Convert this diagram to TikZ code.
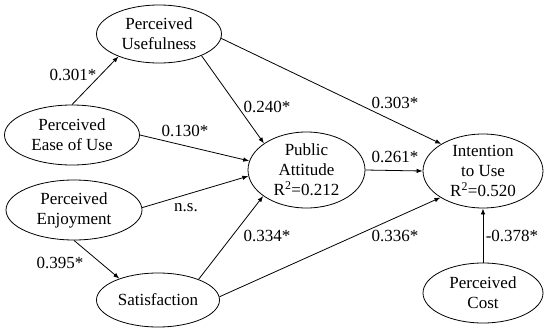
\documentclass[tikz,border=0pt]{standalone}
\usepackage{fontspec}
\setmainfont{Liberation Serif}
\usetikzlibrary{shapes.geometric,arrows.meta}
\begin{document}
\begin{tikzpicture}[x=1pt,y=-1pt,
  ell/.style={draw,ellipse,inner sep=0pt,align=center,line width=0.8pt,
    font=\fontsize{17}{20}\selectfont},
  lbl/.style={inner sep=0pt,font=\fontsize{17}{20}\selectfont},
  arr/.style={line width=0.8pt,-{Latex[length=6pt,width=4.5pt]}}]
\useasboundingbox (0,0) rectangle (550,335);
\node[ell,minimum width=125pt,minimum height=58pt] (pu) at (159,34) {Perceived\\Usefulness};
\node[ell,minimum width=135pt,minimum height=60pt] (peou) at (72,135) {Perceived\\Ease of Use};
\node[ell,minimum width=117pt,minimum height=76pt] (pa) at (306.5,170) {Public\\Attitude\\R\textsuperscript{2}=0.212};
\node[ell,minimum width=120pt,minimum height=74pt] (iu) at (483,171) {Intention\\to Use\\R\textsuperscript{2}=0.520};
\node[ell,minimum width=136pt,minimum height=60pt] (pe) at (74,210) {Perceived\\Enjoyment};
\node[ell,minimum width=123pt,minimum height=54pt] (sat) at (158,300) {Satisfaction};
\node[ell,minimum width=120pt,minimum height=60pt] (pc) at (483,293) {Perceived\\Cost};

\draw[arr] (peou.north) -- (pu.209);
\draw[arr] (pu.333) -- (pa.148.3);
\draw[arr] (pu.356) -- (iu.147.6);
\draw[arr] (peou.east) -- (pa.171.3);
\draw[arr] (pa.east) -- (iu.west);
\draw[arr] (pe.2) -- (pa.186.8);
\draw[arr] (pe.south) -- (sat.151.8);
\draw[arr] (sat.27.6) -- (pa.211.8);
\draw[arr] (sat.3) -- (iu.212);
\draw[arr] (pc.north) -- (iu.south);

\node[lbl] (l1) at (73,75) {0.301*};
\node[lbl] (l2) at (267,107) {0.240*};
\node[lbl] (l3) at (395,103) {0.303*};
\node[lbl] (l4) at (185,131) {0.130*};
\node[lbl] (l5) at (395,157) {0.261*};
\node[lbl] (l6) at (186,208) {n.s.};
\node[lbl] (l7) at (60,263) {0.395*};
\node[lbl] (l8) at (267,236) {0.334*};
\node[lbl] (l9) at (395,236) {0.336*};
\node[lbl] (l10) at (512,236) {-0.378*};
\end{tikzpicture}
\end{document}
